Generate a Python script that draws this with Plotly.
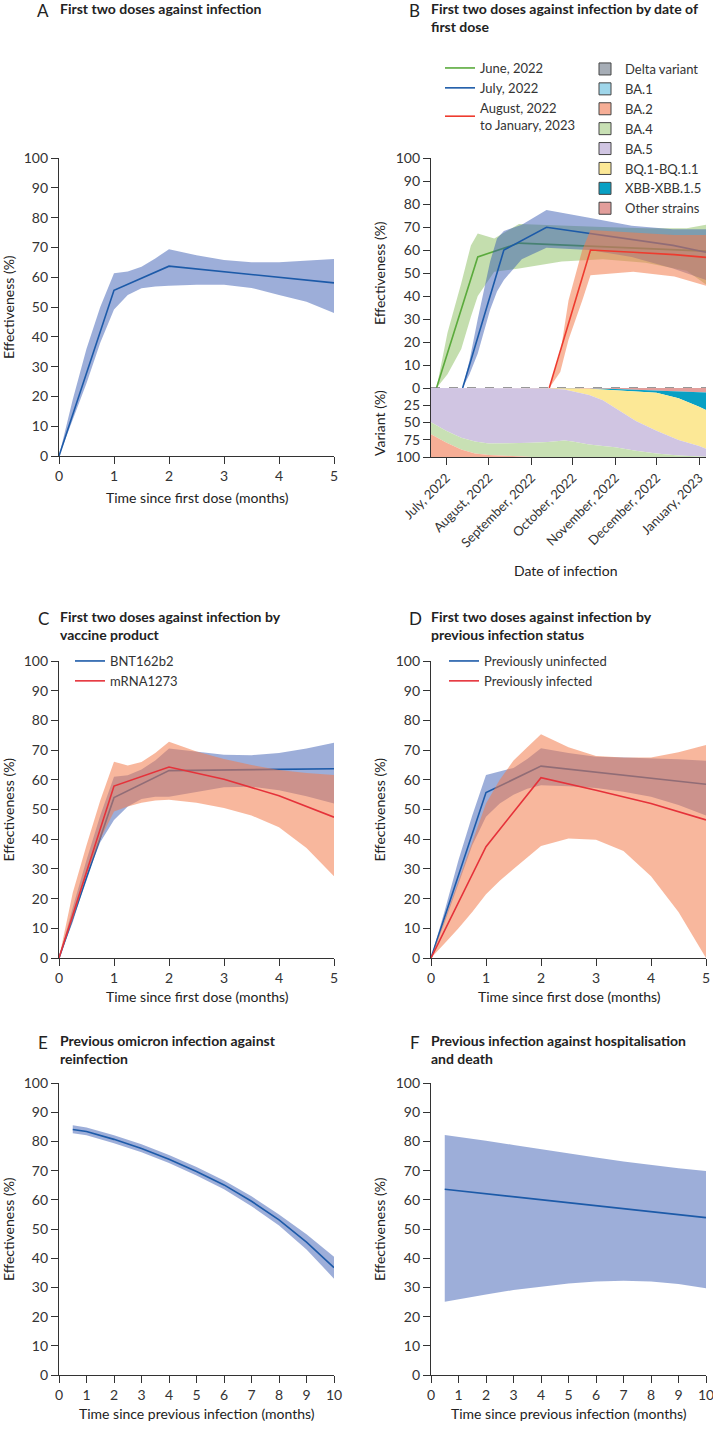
import plotly.graph_objects as go

W, H = 713, 1436
FONT = "Lato"
INK = "#333333"

# ---------------- data ----------------
# panels A, C, D: months since first dose
line_months = [0, 1, 2, 3, 4, 5]
band_months = [0, 0.25, 0.5, 0.75, 1, 1.25, 1.5, 1.75, 2, 2.5, 3, 3.5, 4, 4.5, 5]

a_ve = [0, 55.6, 63.7, 61.8, 60.0, 58.1]
a_hi = [0, 19, 36, 50, 61.3, 61.9, 63.5, 66.3, 69.4, 67.4, 65.8, 65.0, 65.0, 65.5, 66.1]
a_lo = [0, 12, 24.4, 38, 49.2, 54, 56.3, 56.9, 57.1, 57.5, 57.5, 56.4, 54, 51.8, 48]

c_bnt = [0, 54.0, 63.1, 63.3, 63.5, 63.7]
c_bnt_hi = [0, 17, 33, 48, 61, 61.5, 63.5, 66.5, 70.5, 69.5, 68.4, 68.3, 69, 70.5, 72.5]
c_bnt_lo = [0, 12, 27, 39, 46.5, 51, 53.5, 54.3, 54.3, 56, 57.5, 57.7, 56.5, 54.5, 52]
c_mrna = [0, 57.9, 64.3, 60.2, 54.6, 47.4]
c_mrna_hi = [0, 22, 38, 53, 66.1, 64.8, 66, 69, 72.8, 69.5, 67, 65, 63.3, 62.3, 61.6]
c_mrna_lo = [0, 13, 28, 40, 49.3, 51, 52.3, 53, 53.3, 52.3, 50.5, 48, 44, 37, 27.5]

d_uninf = [0, 55.7, 64.6, 62.6, 60.5, 58.5]
d_uninf_hi = [0, 16, 33, 48, 61.6, 62.8, 64, 67, 70.6, 69, 67.8, 67.5, 67.3, 66.9, 66.4]
d_uninf_lo = [0, 12, 25, 38, 47.6, 52, 55, 57, 58.2, 57.8, 57.2, 56, 54.3, 51.5, 48]
d_inf = [0, 37.5, 60.7, 56.5, 52.0, 46.5]
d_inf_hi = [0, 13, 26, 39, 52, 60, 66.5, 71, 75.3, 71, 68, 67.5, 67.5, 69.3, 71.7]
d_inf_lo = [0, 5, 10, 15.5, 21.5, 26, 30, 34, 37.7, 40.2, 39.8, 36, 27.5, 15.5, 0]

# panels E, F: months since previous infection
prev_months = [0.5, 1, 2, 3, 4, 5, 6, 7, 8, 9, 10]
e_ve = [84.1, 83.4, 80.7, 77.6, 73.9, 69.7, 65.1, 59.5, 53.1, 45.5, 36.8]
e_hi = [85.5, 84.8, 82.1, 79.0, 75.3, 71.2, 66.6, 61.2, 55.0, 48.2, 40.5]
e_lo = [82.8, 82.1, 79.4, 76.3, 72.6, 68.3, 63.6, 57.8, 51.2, 43.0, 33.0]
f_ve = [63.6, 63.1, 62.1, 61.1, 60.1, 59.1, 58.0, 57.0, 56.0, 55.0, 53.9]
f_hi = [82.2, 81.6, 80.2, 78.8, 77.3, 75.9, 74.5, 73.1, 71.9, 70.8, 69.9]
f_lo = [25.1, 25.9, 27.6, 29.1, 30.3, 31.3, 32.0, 32.3, 32.0, 31.2, 29.7]

# panel B: date of infection, by month of first dose
jun_dates = ["2022-06-24", "2022-07-24", "2022-08-23", "2023-01-06"]
jun_ve = [0, 57, 63, 59.5]
jun_band_dates = ["2022-06-24", "2022-07-02", "2022-07-12", "2022-07-19", "2022-07-24", "2022-08-05",
                  "2022-08-23", "2022-09-23", "2022-10-23", "2022-11-23", "2022-12-23", "2023-01-06"]
jun_hi = [0, 24, 45.5, 62, 67.2, 65, 71.3, 70.5, 70, 69.5, 69.5, 71]
jun_lo = [0, 6, 17, 31, 40, 50.5, 52, 55, 56, 54.5, 51, 45]

jul_dates = ["2022-07-13", "2022-08-12", "2022-09-12", "2022-10-13", "2022-11-13", "2022-12-13", "2023-01-06"]
jul_ve = [0, 60, 69.9, 67.2, 64.8, 62, 59]
jul_band_dates = ["2022-07-13", "2022-07-18", "2022-07-24", "2022-08-02", "2022-08-07", "2022-08-12",
                  "2022-08-25", "2022-09-12", "2022-10-13", "2022-11-13", "2022-12-13", "2023-01-06"]
jul_hi = [0, 12, 30, 55, 65, 68.3, 71, 77.4, 74, 70.5, 69, 69]
jul_lo = [0, 6, 15, 34, 42, 47, 56, 61, 60, 57, 52, 47]

aug_dates = ["2022-09-14", "2022-10-14", "2022-11-14", "2022-12-14", "2023-01-06"]
aug_ve = [0, 60, 59, 58, 56.8]
aug_band_dates = ["2022-09-14", "2022-09-22", "2022-09-28", "2022-10-08", "2022-10-14",
                  "2022-11-14", "2022-12-14", "2023-01-06"]
aug_hi = [0, 15, 38, 60, 68.7, 67.5, 66.5, 66.5]
aug_lo = [0, 7, 21, 38, 49, 50.5, 48.5, 44.5]

# variant share (%) by date of infection
var_dates = ["2022-06-20", "2022-07-01", "2022-07-12", "2022-07-22", "2022-08-01", "2022-08-17",
             "2022-09-01", "2022-09-13", "2022-09-25", "2022-10-01", "2022-10-13", "2022-10-23",
             "2022-11-01", "2022-11-16", "2022-12-01", "2022-12-17", "2023-01-01", "2023-01-06"]
var_other = [0, 0, 0, 0, 0, 0, 0.3, 0.3, 0.4, 0.5, 0.7, 1, 1.5, 2.5, 3.5, 5, 6, 6.4]
var_xbb = [0, 0, 0, 0, 0, 0, 0, 0.2, 0.2, 0.3, 0.5, 1, 1.5, 2.5, 3.5, 10, 21, 25.6]
var_bq1 = [0, 0, 0, 0, 0, 0, 0, 0.3, 1.4, 3.6, 8.8, 15.6, 26, 43, 55, 60.5, 57, 56]
var_ba5 = [49.5, 62, 72, 77.5, 80.4, 80.4, 79.1, 77.6, 74, 73.1, 72, 66.4, 57, 43, 33, 22.5, 15, 11.5]
var_ba4 = [17.5, 17, 17, 17.5, 16.6, 18.6, 20.6, 21.6, 24, 22.5, 18, 16, 14, 9, 5, 2, 1, 0.5]
var_ba2 = [33, 21, 11, 5, 3, 1, 0, 0, 0, 0, 0, 0, 0, 0, 0, 0, 0, 0]

variant_names = ["Delta variant", "BA.1", "BA.2", "BA.4", "BA.5", "BQ.1-BQ.1.1", "XBB-XBB.1.5", "Other strains"]
variant_colors = ["#a6adb6", "#9fd6ea", "#f6ae96", "#c8e0b4", "#d0c5e2", "#fce896", "#08a0c4", "#e29e9b"]

month_ticks = ["2022-07-01", "2022-08-01", "2022-09-01", "2022-10-01", "2022-11-01", "2022-12-01", "2023-01-01"]
month_labels = ["July, 2022", "August, 2022", "September, 2022", "October, 2022",
                "November, 2022", "December, 2022", "January, 2023"]
b_range = ["2022-06-20", "2023-01-06"]

# ---------------- colours ----------------
BLUE = "#1c5aa8"
BLUE_BAND = "rgba(50,85,175,0.48)"
RED = "#e5323a"
RED_B = "#ee3b2e"
ORANGE_BAND = "rgba(242,124,77,0.55)"
GREEN = "#5aaa3c"
GREEN_BAND = "rgba(137,189,93,0.5)"


def band(x, hi, lo, color, xa, ya):
    x = list(x)
    return go.Scatter(x=x + x[::-1], y=list(hi) + list(lo)[::-1], fill="toself", fillcolor=color,
                      mode="lines", line=dict(width=0), hoverinfo="skip",
                      showlegend=False, xaxis=xa, yaxis=ya)


def line(x, y, color, xa, ya, name=None, legend=None):
    return go.Scatter(x=x, y=y, mode="lines", line=dict(color=color, width=1.6),
                      name=name, showlegend=name is not None, legend=legend,
                      xaxis=xa, yaxis=ya)


fig = go.Figure()

# A
fig.add_trace(band(band_months, a_hi, a_lo, BLUE_BAND, "x", "y"))
fig.add_trace(line(line_months, a_ve, BLUE, "x", "y"))

# B effectiveness
fig.add_trace(band(jun_band_dates, jun_hi, jun_lo, GREEN_BAND, "x2", "y2"))
fig.add_trace(line(jun_dates, jun_ve, GREEN, "x2", "y2", "June, 2022", "legend"))
fig.add_trace(band(jul_band_dates, jul_hi, jul_lo, BLUE_BAND, "x2", "y2"))
fig.add_trace(line(jul_dates, jul_ve, BLUE, "x2", "y2", "July, 2022", "legend"))
fig.add_trace(band(aug_band_dates, aug_hi, aug_lo, ORANGE_BAND, "x2", "y2"))
fig.add_trace(line(aug_dates, aug_ve, RED_B, "x2", "y2", "August, 2022<br>to January, 2023", "legend"))

# B variant shares, stacked from the top
for vals, col in [(var_other, variant_colors[7]), (var_xbb, variant_colors[6]), (var_bq1, variant_colors[5]),
                  (var_ba5, variant_colors[4]), (var_ba4, variant_colors[3]), (var_ba2, variant_colors[2])]:
    fig.add_trace(go.Scatter(x=var_dates, y=vals, stackgroup="v", mode="lines", line=dict(width=0),
                             fillcolor=col, hoverinfo="skip", showlegend=False, xaxis="x3", yaxis="y3"))
for name, col in zip(variant_names, variant_colors):
    fig.add_trace(go.Bar(x=[None], y=[None], name=name, legend="legend2",
                         marker=dict(color=col, line=dict(color="#444444", width=1)),
                         xaxis="x3", yaxis="y3"))

# C
fig.add_trace(band(band_months, c_bnt_hi, c_bnt_lo, BLUE_BAND, "x4", "y4"))
fig.add_trace(line(line_months, c_bnt, BLUE, "x4", "y4", "BNT162b2", "legend3"))
fig.add_trace(band(band_months, c_mrna_hi, c_mrna_lo, ORANGE_BAND, "x4", "y4"))
fig.add_trace(line(line_months, c_mrna, RED, "x4", "y4", "mRNA1273", "legend3"))

# D
fig.add_trace(band(band_months, d_uninf_hi, d_uninf_lo, BLUE_BAND, "x5", "y5"))
fig.add_trace(line(line_months, d_uninf, BLUE, "x5", "y5", "Previously uninfected", "legend4"))
fig.add_trace(band(band_months, d_inf_hi, d_inf_lo, ORANGE_BAND, "x5", "y5"))
fig.add_trace(line(line_months, d_inf, RED, "x5", "y5", "Previously infected", "legend4"))

# E, F
fig.add_trace(band(prev_months, e_hi, e_lo, BLUE_BAND, "x6", "y6"))
fig.add_trace(line(prev_months, e_ve, BLUE, "x6", "y6"))
fig.add_trace(band(prev_months, f_hi, f_lo, BLUE_BAND, "x7", "y7"))
fig.add_trace(line(prev_months, f_ve, BLUE, "x7", "y7"))


def xd(a, b):
    return [a / W, b / W]


def yd(top, bottom):
    return [1 - bottom / H, 1 - top / H]


def ax(**kw):
    d = dict(showline=True, linecolor=INK, linewidth=1.3, ticks="outside", ticklen=7, tickwidth=1.2,
             tickcolor=INK, showgrid=False, zeroline=False, fixedrange=True, automargin=False,
             ticklabeloverflow="allow", tickfont=dict(family=FONT, size=14, color=INK))
    d.update(kw)
    return d


def leg(x, y):
    return dict(x=x / W, y=1 - y / H, xanchor="left", yanchor="top", bgcolor="rgba(0,0,0,0)",
                font=dict(family=FONT, size=13, color=INK), tracegroupgap=0, traceorder="normal")


LEFT, RIGHT = xd(59, 334), xd(431, 706)

fig.update_layout(
    width=W, height=H, margin=dict(l=0, r=0, t=0, b=0, pad=0, autoexpand=False),
    paper_bgcolor="white", plot_bgcolor="white",
    font=dict(family=FONT, size=13, color=INK),
    xaxis=ax(domain=LEFT, range=[0, 5], dtick=1, anchor="y"),
    yaxis=ax(domain=yd(158, 456), range=[0, 100], dtick=10, anchor="x"),
    xaxis2=dict(domain=RIGHT, range=b_range, type="date", visible=False, anchor="y2", fixedrange=True),
    yaxis2=ax(domain=yd(158, 388), range=[0, 100], dtick=10, anchor="x2"),
    xaxis3=ax(domain=RIGHT, range=b_range, type="date", tickvals=month_ticks, ticktext=month_labels,
              tickangle=-45, anchor="y3", tickfont=dict(family=FONT, size=13, color=INK)),
    yaxis3=ax(domain=yd(388, 457), range=[100, 0], tickvals=[25, 50, 75, 100], anchor="x3"),
    xaxis4=ax(domain=LEFT, range=[0, 5], dtick=1, anchor="y4"),
    yaxis4=ax(domain=yd(661, 958), range=[0, 100], dtick=10, anchor="x4"),
    xaxis5=ax(domain=RIGHT, range=[0, 5], dtick=1, anchor="y5"),
    yaxis5=ax(domain=yd(661, 958), range=[0, 100], dtick=10, anchor="x5"),
    xaxis6=ax(domain=LEFT, range=[0, 10], dtick=1, anchor="y6"),
    yaxis6=ax(domain=yd(1083, 1375), range=[0, 100], dtick=10, anchor="x6"),
    xaxis7=ax(domain=RIGHT, range=[0, 10], dtick=1, anchor="y7"),
    yaxis7=ax(domain=yd(1083, 1375), range=[0, 100], dtick=10, anchor="x7"),
    legend=leg(440, 53),
    legend2=leg(585, 54),
    legend3=leg(70, 646),
    legend4=leg(444, 646),
    showlegend=True,
)

# dashed reference line between effectiveness and variant panels
fig.add_shape(type="line", xref="x2 domain", yref="y2", x0=0, x1=1, y0=0, y1=0,
              line=dict(color="#777777", width=1.5, dash="dash"))


def note(text, x, y, size=14, bold=False, angle=0, xanchor="center", yanchor="middle"):
    if bold:
        text = "<b>" + text + "</b>"
    fig.add_annotation(text=text, x=x / W, y=1 - y / H, xref="paper", yref="paper", showarrow=False,
                       xanchor=xanchor, yanchor=yanchor, align="left", textangle=angle,
                       font=dict(family=FONT, size=size, color="#222222"))


# panel letters and titles
panels = [
    ("A", 35, 58, -2, "First two doses against infection"),
    ("B", 407, 429, -2, "First two doses against infection by date of<br>first dose"),
    ("C", 36, 58, 606, "First two doses against infection by<br>vaccine product"),
    ("D", 407, 429, 606, "First two doses against infection by<br>previous infection status"),
    ("E", 36, 58, 1030, "Previous omicron infection against<br>reinfection"),
    ("F", 408, 429, 1030, "Previous infection against hospitalisation<br>and death"),
]
for letter, lx, tx, ty, title in panels:
    note(letter, lx, ty, size=17, xanchor="left", yanchor="top")
    note(title, tx, ty, size=14, bold=True, xanchor="left", yanchor="top")

# axis titles
for xc in (8, 379):
    for yc in (307 if xc == 8 else 273, 809.5, 1229):
        note("Effectiveness (%)", xc, yc, angle=-90)
note("Variant (%)", 379, 423, angle=-90)
note("Time since first dose (months)", 197, 497)
note("Date of infection", 566, 570)
note("Time since first dose (months)", 197, 997)
note("Time since first dose (months)", 569, 997)
note("Time since previous infection (months)", 197, 1413)
note("Time since previous infection (months)", 569, 1413)

fig.write_html("out.html", config={"displayModeBar": False},
               post_script="document.body.style.margin = '0';")
